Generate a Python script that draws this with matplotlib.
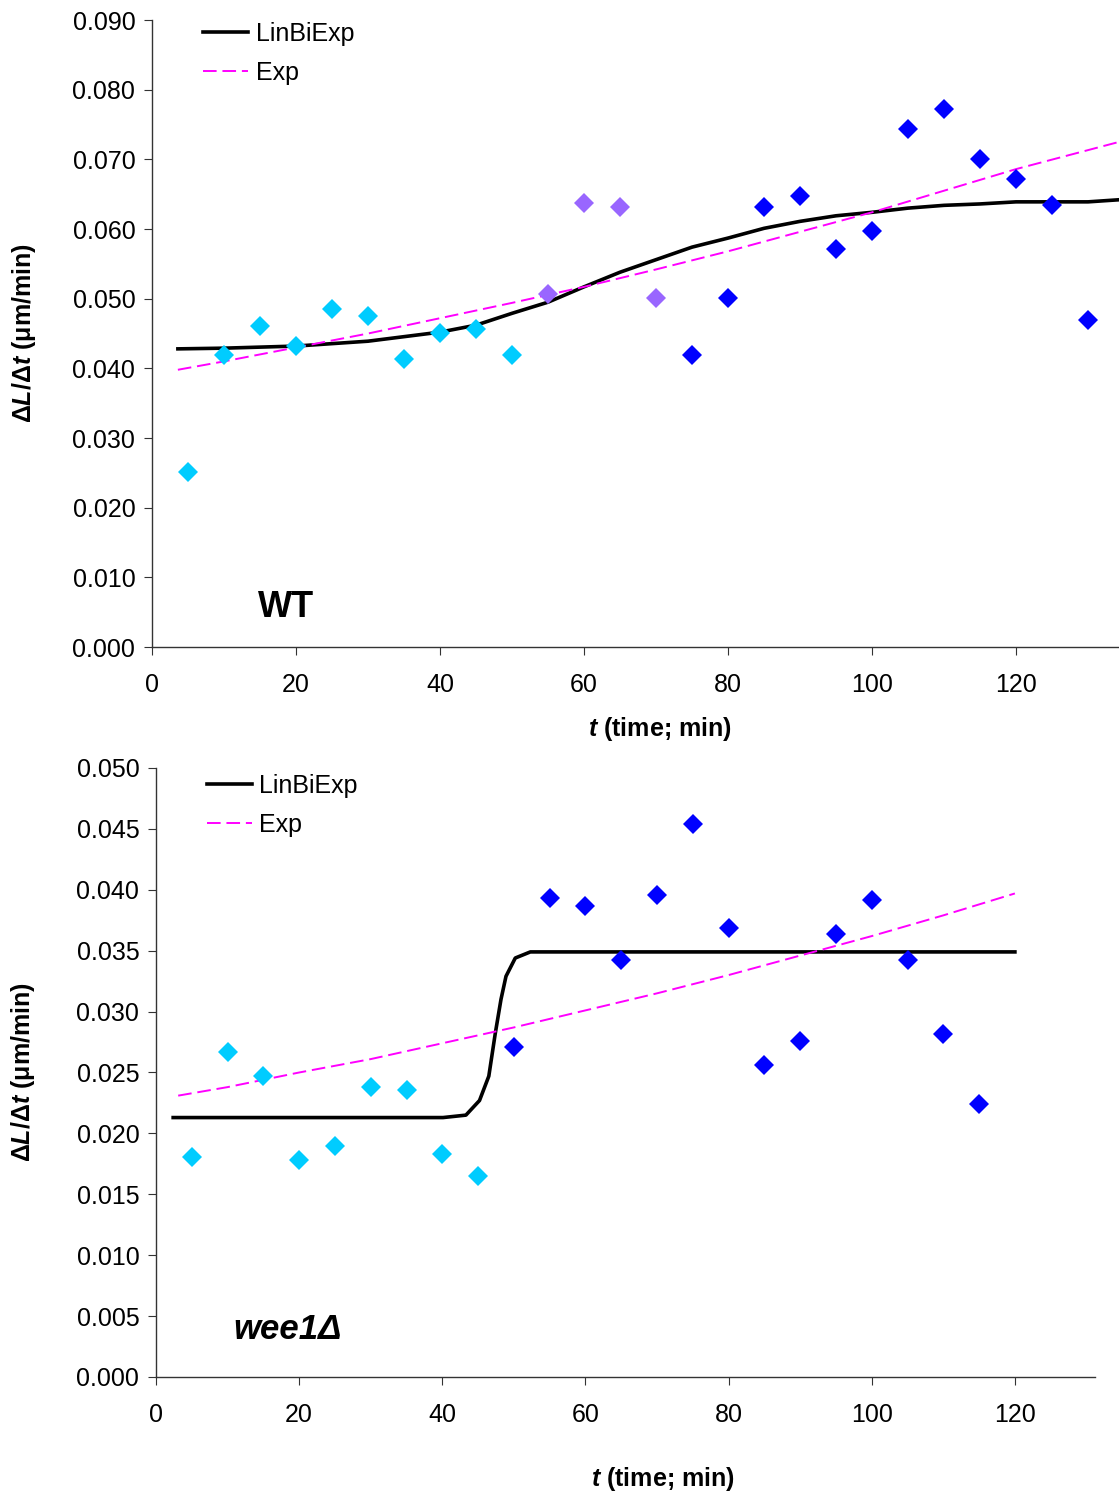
import numpy as np
import matplotlib
matplotlib.use('Agg')
import matplotlib.pyplot as plt

plt.rcParams['font.family'] = ['Liberation Sans', 'DejaVu Sans']
plt.rcParams['mathtext.fontset'] = 'custom'
plt.rcParams['mathtext.rm'] = 'Liberation Sans:bold'
plt.rcParams['mathtext.it'] = 'Liberation Sans:bold:italic'
plt.rcParams['mathtext.bf'] = 'Liberation Sans:bold'

# ---- WT panel data ----
wt_t = [5, 10, 15, 20, 25, 30, 35, 40, 45, 50, 55, 60, 65, 70,
        75, 80, 85, 90, 95, 100, 105, 110, 115, 120, 125, 130]
wt_rate = [0.0251, 0.0419, 0.0461, 0.0432, 0.0485, 0.0475, 0.0413, 0.0451,
           0.0456, 0.0419, 0.0507, 0.0637, 0.0632, 0.0501, 0.0419, 0.0501,
           0.0632, 0.0647, 0.0571, 0.0597, 0.0744, 0.0772, 0.0700, 0.0672,
           0.0634, 0.0469]
wt_group = ['c'] * 10 + ['p'] * 4 + ['b'] * 12

wt_fit_t = [3.6, 10, 20, 30, 40, 45, 50, 55, 60, 65, 70, 75, 80, 85, 90,
            95, 100, 105, 110, 115, 120, 125, 130, 134.3]
wt_linbiexp = [0.0428, 0.0429, 0.0432, 0.0439, 0.0452, 0.0462, 0.0479,
               0.0495, 0.0517, 0.0538, 0.0556, 0.0574, 0.0587, 0.0601,
               0.0611, 0.0619, 0.0624, 0.0630, 0.0634, 0.0636, 0.0639,
               0.0639, 0.0639, 0.0642]
wt_exp_t = [3.6, 10, 20, 30, 40, 50, 60, 70, 80, 90, 100, 110, 120, 134.3]
wt_exp = [0.0398, 0.0410, 0.0430, 0.0450, 0.0472, 0.0494, 0.0517, 0.0542,
          0.0568, 0.0596, 0.0624, 0.0655, 0.0686, 0.0725]

# ---- wee1 panel data ----
wee_t = [5, 10, 15, 20, 25, 30, 35, 40, 45, 50, 55, 60, 65, 70, 75,
         80, 85, 90, 95, 100, 105, 110, 115]
wee_rate = [0.0181, 0.0267, 0.0247, 0.0178, 0.0190, 0.0238, 0.0236, 0.0183,
            0.0165, 0.0271, 0.0393, 0.0387, 0.0342, 0.0396, 0.0454, 0.0369,
            0.0256, 0.0276, 0.0364, 0.0392, 0.0342, 0.0282, 0.0224]
wee_group = ['c'] * 9 + ['b'] * 14

wee_fit_t = [2.4, 10, 20, 30, 40.1, 43.3, 45.2, 46.5, 47.4, 48.2, 48.9,
             50.2, 52.3, 60, 80, 100, 120]
wee_linbiexp = [0.0213, 0.0213, 0.0213, 0.0213, 0.0213, 0.0215, 0.0227,
                0.0247, 0.0282, 0.0310, 0.0329, 0.0344, 0.0349, 0.0349,
                0.0349, 0.0349, 0.0349]
wee_exp_t = [3.1, 10, 20, 30, 40, 50, 60, 70, 80, 90, 100, 110, 120]
wee_exp = [0.0231, 0.0238, 0.0250, 0.0261, 0.0274, 0.0287, 0.0301, 0.0315,
           0.0330, 0.0346, 0.0362, 0.0379, 0.0397]

colours = {'c': '#00CCFF', 'p': '#9966FF', 'b': '#0000FF'}
ylabel = r'$\Delta L/\Delta t$ (μm/min)'
xlabel = r'$t$ (time; min)'
FS = 18

fig = plt.figure(figsize=(11.19, 14.93), dpi=100)


def draw_panel(ax, t, rate, group, ft, fy, et, ey, xmax, ymax, ystep, tag, tagpos, legy):
    for g in ['c', 'p', 'b']:
        xs = [a for a, k in zip(t, group) if k == g]
        ys = [b for b, k in zip(rate, group) if k == g]
        if xs:
            ax.plot(xs, ys, 'D', color=colours[g], markersize=10.5,
                    markeredgewidth=0, zorder=3)
    ax.plot(ft, fy, color='black', lw=2.6, label='LinBiExp', zorder=2)
    ax.plot(et, ey, color='#FF00FF', lw=1.4, dashes=(7, 3), label='Exp', zorder=2)
    ax.set_xlim(0, xmax)
    ax.set_ylim(0, ymax)
    ax.set_xticks(np.arange(0, 121, 20))
    ax.set_yticks(np.arange(0, ymax + ystep / 2, ystep))
    ax.yaxis.set_major_formatter(matplotlib.ticker.FormatStrFormatter('%.3f'))
    for s in ['top', 'right']:
        ax.spines[s].set_visible(False)
    for s in ['left', 'bottom']:
        ax.spines[s].set_color('#333333')
        ax.spines[s].set_linewidth(1.0)
    ax.tick_params(axis='x', direction='out', length=6, pad=13, labelsize=FS, color='#333333')
    ax.tick_params(axis='y', direction='out', length=6, pad=6, labelsize=FS, color='#333333')
    ax.set_ylabel(ylabel, fontsize=FS, fontweight='bold')
    ax.set_xlabel(xlabel, fontsize=FS, fontweight='bold')
    ax.legend(loc='upper left', bbox_to_anchor=(0.03, legy), frameon=False,
              fontsize=FS, handlelength=1.8, handletextpad=0.3, labelspacing=0.6)
    ax.text(tagpos[0], tagpos[1], tag, fontsize=tagpos[2], fontweight='bold',
            fontstyle=tagpos[3], ha='center', va='center')


ax1 = fig.add_axes([0.1358, 0.5666, 0.8642, 0.4200])
draw_panel(ax1, wt_t, wt_rate, wt_group, wt_fit_t, wt_linbiexp, wt_exp_t, wt_exp,
           134.3, 0.09, 0.01, 'WT', (18.6, 0.0057, 26, 'normal'), 1.033)
ax1.yaxis.set_label_coords(-0.118, 0.5)
ax1.xaxis.set_label_coords(0.525, -0.108)

ax2 = fig.add_axes([0.1394, 0.0777, 0.8392, 0.4079])
draw_panel(ax2, wee_t, wee_rate, wee_group, wee_fit_t, wee_linbiexp, wee_exp_t, wee_exp,
           131.2, 0.05, 0.005, 'wee1Δ', (18.4, 0.0039, 25, 'italic'), 1.027)
ax2.yaxis.set_label_coords(-0.127, 0.5)
ax2.xaxis.set_label_coords(0.54, -0.145)

fig.savefig('out.png', dpi=100)
